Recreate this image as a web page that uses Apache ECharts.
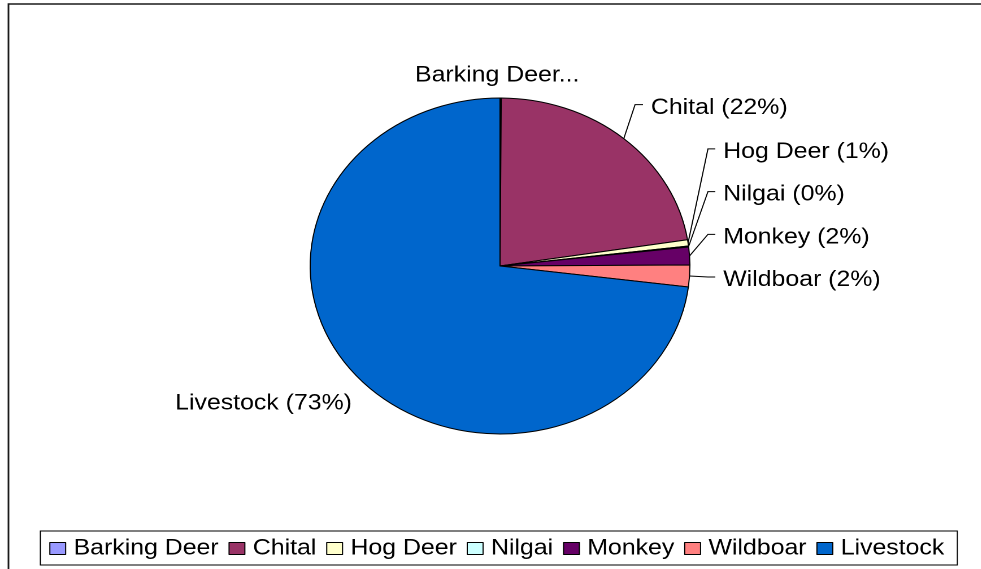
<!DOCTYPE html>
<html><head><meta charset="utf-8">
<script src="https://cdn.jsdelivr.net/npm/echarts@6/dist/echarts.min.js"></script>
<style>
html,body{margin:0;padding:0;background:#fff;overflow:hidden;width:981px;height:569px}
#wrap{position:absolute;left:0;top:0;width:868px;height:569px;transform:scaleX(1.13);transform-origin:0 0}
</style></head><body>
<div id="wrap"></div>
<script>
// ---- data ----
const categories = ['Barking Deer', 'Chital', 'Hog Deer', 'Nilgai', 'Monkey', 'Wildboar', 'Livestock'];
const values = [0.1, 22.4, 0.6, 0.1, 1.7, 2.1, 73.0];
const colors = ['#9999FF', '#993366', '#FFFFCC', '#CCFFFF', '#660066', '#FF8080', '#0066CC'];

// ---- layout (unscaled coordinates; the page is stretched horizontally like the original) ----
const CX = 442.5, CY = 266, R = 168;
const FONT = '"Liberation Sans", Arial, Helvetica, sans-serif';
const total = values.reduce((a, b) => a + b, 0);

function edgePoint(i) {
  let before = 0;
  for (let k = 0; k < i; k++) before += values[k];
  const mid = (before + values[i] / 2) / total * 2 * Math.PI; // clockwise from 12 o'clock
  return [CX + R * Math.sin(mid), CY - R * Math.cos(mid)];
}

function layoutLabel(p) {
  const i = p.dataIndex;
  const e = edgePoint(i);
  if (i === 0) return { x: e[0] - 3, y: e[1] - 22.5, align: 'center', verticalAlign: 'middle' };
  if (i === categories.length - 1) return { x: e[0] - 5, y: e[1] + 26.5, align: 'right', verticalAlign: 'middle' };
  if (i === 1) {
    const ly = e[1] - 34;
    return { x: e[0] + 24, y: ly + 3.5, align: 'left', verticalAlign: 'middle',
      labelLinePoints: [e, [e[0] + 10, ly], [e[0] + 17, ly]] };
  }
  // small slices on the right: stacked upward from the last one
  const last = 5;
  const base = edgePoint(last)[1] + 1;
  const ly = base - (last - i) * 42.7;
  const bx = CX + R;
  return { x: bx + 29.5, y: ly + 3, align: 'left', verticalAlign: 'middle',
    labelLinePoints: [e, [bx + 16, ly], [bx + 22.5, ly]] };
}

const chart = echarts.init(document.getElementById('wrap'), null, { renderer: 'canvas', devicePixelRatio: 2 });
chart.setOption({
  animation: false,
  backgroundColor: '#fff',
  graphic: [
    { type: 'rect', silent: true, z: 0, shape: { x: 7.5, y: 4, width: 2000, height: 2000 },
      style: { fill: null, stroke: '#1a1a1a', lineWidth: 1.5 } },
    { type: 'rect', silent: true, z: 0, shape: { x: 35.7, y: 531, width: 811.5, height: 34 },
      style: { fill: null, stroke: '#000', lineWidth: 1 } }
  ],
  legend: {
    left: 43.6, top: 536.5, width: 820, orient: 'horizontal', padding: 0,
    itemWidth: 14, itemHeight: 12, itemGap: 8.7, icon: 'rect', selectedMode: false,
    itemStyle: { borderColor: '#000', borderWidth: 1 },
    textStyle: { fontSize: 22, color: '#000', fontFamily: FONT, padding: [0, 0, 0, 2], lineHeight: 24 },
    data: categories
  },
  series: [{
    type: 'pie',
    center: [CX, CY],
    radius: R,
    startAngle: 90,
    clockwise: true,
    avoidLabelOverlap: false,
    silent: true,
    emphasis: { disabled: true },
    itemStyle: { borderColor: '#000', borderWidth: 1 },
    label: {
      show: true, position: 'outside', color: '#000', fontSize: 22, fontFamily: FONT,
      formatter: p => p.dataIndex === 0 ? p.name + '...' : p.name + ' (' + Math.round(p.percent) + '%)'
    },
    labelLine: { show: true, length: 8, length2: 8, lineStyle: { color: '#000', width: 1 } },
    labelLayout: layoutLabel,
    data: categories.map((n, i) => ({
      name: n, value: values[i],
      itemStyle: { color: colors[i] },
      labelLine: { show: i !== 0 && i !== categories.length - 1 }
    }))
  }]
});
</script>
</body></html>
